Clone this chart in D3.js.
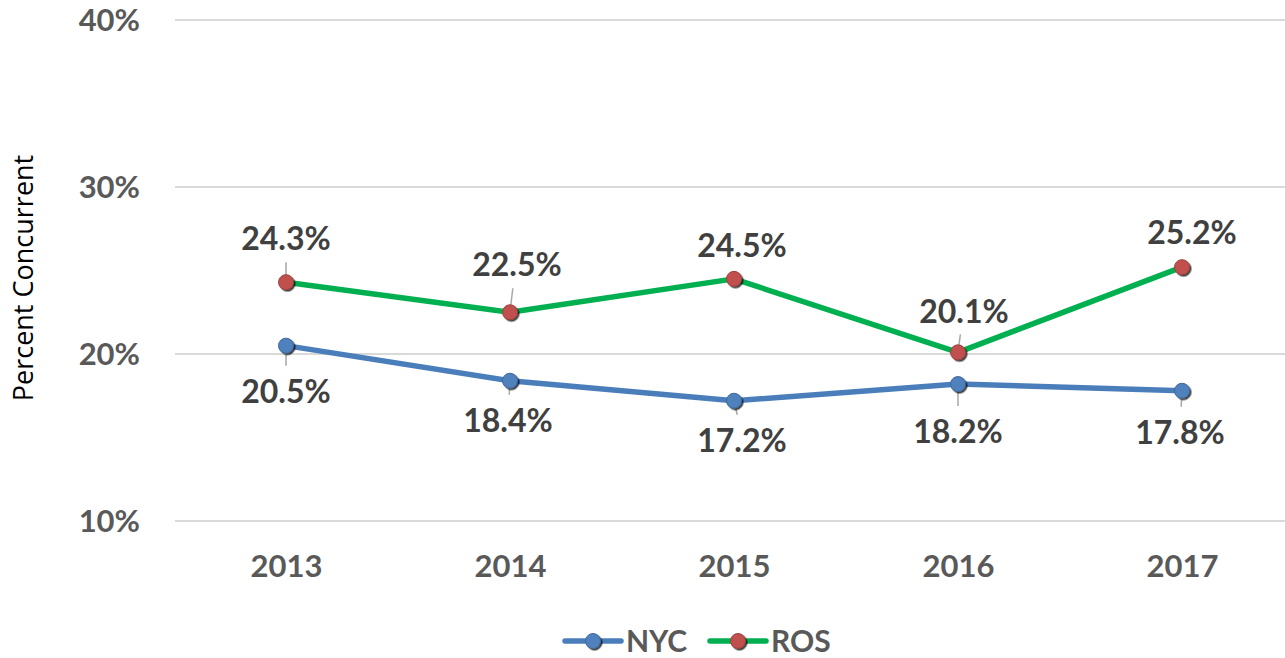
<!DOCTYPE html>
<html>
<head>
<meta charset="utf-8">
<script src="https://cdn.jsdelivr.net/npm/d3@7"></script>
<style>
  body { margin: 0; background: #fff; }
  #chart { width: 1285px; height: 658px; }
</style>
</head>
<body>
<div id="chart"></div>
<script>
var years = ["2013", "2014", "2015", "2016", "2017"];
var nyc = [20.5, 18.4, 17.2, 18.2, 17.8];
var ros = [24.3, 22.5, 24.5, 20.1, 25.2];
var yTicks = [10, 20, 30, 40];

var series = [
  {name: "NYC", values: nyc, line: "#4a7ebb", dot: "#4f81bd"},
  {name: "ROS", values: ros, line: "#00b050", dot: "#c0504d"}
];

// nudges for data labels (dx, dy) so they sit like the original
var labelNudge = {
  NYC: [[0, 46], [-2, 40], [8, 40], [0, 48], [-2, 42]],
  ROS: [[0, -43], [7, -47], [8, -33], [6, -41], [10, -34]]
};

var width = 1285, height = 658,
    plotLeft = 175, plotRight = 1285, plotTop = 20, plotBottom = 521;

var boldFont = "Lato, 'Open Sans', sans-serif";

var svg = d3.select("#chart").append("svg")
  .attr("width", width)
  .attr("height", height);

var defs = svg.append("defs");
var f = defs.append("filter").attr("id", "shadow").attr("x", "-50%").attr("y", "-50%")
  .attr("width", "200%").attr("height", "200%");
f.append("feDropShadow").attr("dx", 1.5).attr("dy", 1.5).attr("stdDeviation", 0.6)
  .attr("flood-color", "#000").attr("flood-opacity", 0.75);

var x = d3.scalePoint().domain(years).range([286, 1182]);
var y = d3.scaleLinear().domain([10, 40]).range([plotBottom, plotTop]);

// gridlines
svg.append("g").selectAll("line")
  .data(yTicks).enter().append("line")
  .attr("x1", plotLeft).attr("x2", plotRight)
  .attr("y1", function(d){ return y(d); })
  .attr("y2", function(d){ return y(d); })
  .attr("stroke", "#d9d9d9").attr("stroke-width", 2);

// y axis labels
var yAxis = d3.axisLeft(y).tickValues(yTicks).tickSize(0)
  .tickFormat(function(d){ return d + "%"; });
var ya = svg.append("g").attr("transform", "translate(140,0)").call(yAxis);
ya.select(".domain").remove();
ya.selectAll("text")
  .attr("fill", "#595959").attr("font-size", 31).attr("font-weight", "bold")
  .attr("font-family", boldFont).attr("dy", "0.35em").attr("x", 0);

// x axis labels
var xAxis = d3.axisBottom(x).tickSize(0);
var xa = svg.append("g").attr("transform", "translate(0,555)").call(xAxis);
xa.select(".domain").remove();
xa.selectAll("text")
  .attr("fill", "#595959").attr("font-size", 31).attr("font-weight", "bold")
  .attr("font-family", boldFont).attr("dy", "0.71em").attr("y", 0);

// y axis title
svg.append("text")
  .attr("transform", "translate(33,278) rotate(-90)")
  .attr("text-anchor", "middle")
  .attr("fill", "#000")
  .style("font-family", "'Open Sans', sans-serif")
  .style("font-size", "27px")
  .text("Percent Concurrent");

var line = d3.line()
  .x(function(d, i){ return x(years[i]); })
  .y(function(d){ return y(d); });

series.forEach(function(s) {
  var g = svg.append("g");
  g.append("path")
    .datum(s.values)
    .attr("fill", "none")
    .attr("stroke", s.line)
    .attr("stroke-width", 5.5)
    .attr("stroke-linejoin", "round")
    .attr("d", line);

  // leader lines from marker toward label
  g.selectAll(".leader").data(s.values).enter().append("line")
    .attr("class", "leader")
    .attr("x1", function(d, i){ return x(years[i]); })
    .attr("y1", function(d){ return y(d); })
    .attr("x2", function(d, i){ return x(years[i]) + labelNudge[s.name][i][0] * 0.4; })
    .attr("y2", function(d, i){
      var n = labelNudge[s.name][i][1];
      return y(d) + (n > 0 ? n - 26 : n + 23);
    })
    .attr("stroke", "#a6a6a6").attr("stroke-width", 1.5)
    .each(function(d, i){
      var n = labelNudge[s.name][i][1];
      if (Math.abs(n) < 36) d3.select(this).remove();
    });

  g.selectAll("circle").data(s.values).enter().append("circle")
    .attr("cx", function(d, i){ return x(years[i]); })
    .attr("cy", function(d){ return y(d); })
    .attr("r", 7.5)
    .attr("fill", s.dot)
    .attr("stroke", d3.color(s.dot).darker(0.6))
    .attr("stroke-width", 1)
    .attr("filter", "url(#shadow)");

  g.selectAll(".val").data(s.values).enter().append("text")
    .attr("class", "val")
    .attr("x", function(d, i){ return x(years[i]) + labelNudge[s.name][i][0]; })
    .attr("y", function(d, i){ return y(d) + labelNudge[s.name][i][1]; })
    .attr("dy", "0.35em")
    .attr("text-anchor", "middle")
    .attr("fill", "#404040").attr("font-size", 32).attr("font-weight", "bold")
    .attr("font-family", boldFont)
    .text(function(d){ return d.toFixed(1) + "%"; });
});

// legend
var legendX = d3.scaleOrdinal().domain(["NYC", "ROS"]).range([565, 710]);
var lg = svg.append("g").selectAll("g").data(series).enter().append("g")
  .attr("transform", function(d){ return "translate(" + legendX(d.name) + ",641)"; });
lg.append("line")
  .attr("x1", 0).attr("x2", 56).attr("y1", 0).attr("y2", 0)
  .attr("stroke", function(d){ return d.line; })
  .attr("stroke-width", 5.5).attr("stroke-linecap", "round");
lg.append("circle")
  .attr("cx", 28).attr("cy", 0).attr("r", 7.5)
  .attr("fill", function(d){ return d.dot; })
  .attr("stroke", function(d){ return d3.color(d.dot).darker(0.6); })
  .attr("filter", "url(#shadow)");
lg.append("text")
  .attr("x", 61).attr("dy", "0.35em")
  .attr("fill", "#595959").attr("font-size", 30).attr("font-weight", "bold")
  .attr("font-family", boldFont)
  .text(function(d){ return d.name; });
</script>
</body>
</html>
